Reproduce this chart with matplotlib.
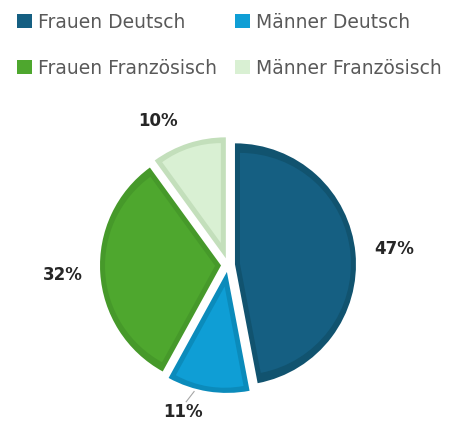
import numpy as np
import matplotlib.pyplot as plt
from matplotlib.patches import Patch, Wedge

labels = ['Frauen Deutsch', 'Männer Deutsch', 'Frauen Französisch', 'Männer Französisch']
values = [47, 11, 32, 10]
faces = ['#155f82', '#0f9ed5', '#4ea72e', '#d9f0d3']
edges = ['#11536f', '#0b8bbb', '#46992a', '#c3dfbb']

fig = plt.figure(figsize=(4.58, 4.26), dpi=100)
ax = fig.add_axes([0, 0, 1, 1])

# outer pie in the darker border colour (explode is in data units = pixels)
wedges, _ = ax.pie(values, center=(228, 161), radius=121, startangle=90,
                   counterclock=False, explode=[7] * 4, colors=edges,
                   wedgeprops=dict(linewidth=0))
ax.set_xlim(0, 458)
ax.set_ylim(0, 426)
ax.axis('off')

# lighter inner wedge, inset by a few pixels, gives the border band
inset = 5
for w, fc in zip(wedges, faces):
    half = np.deg2rad(w.theta2 - w.theta1) / 2
    mid = np.deg2rad(w.theta1) + half
    s = inset / np.sin(half)
    cx = w.center[0] + s * np.cos(mid)
    cy = w.center[1] + s * np.sin(mid)
    ax.add_patch(Wedge((cx, cy), w.r - inset - s, w.theta1, w.theta2,
                       facecolor=fc, linewidth=0))

# percentage labels, outside the slices
dist = [167, 154, 166, 160]
shift = [0, -8, 0, 8]   # degrees, nudge along the circle
for w, v, d, a in zip(wedges, values, dist, shift):
    t = np.deg2rad((w.theta1 + w.theta2) / 2 + a)
    x = 228 + d * np.cos(t)
    y = 161 + d * np.sin(t)
    ax.text(x, y, f'{v}%', ha='center', va='center', fontsize=12,
            fontweight='bold', color='#262626')

# leader line for the small slice
t = np.deg2rad((wedges[1].theta1 + wedges[1].theta2) / 2 - 8)
ax.plot([228 + 131 * np.cos(np.deg2rad(-105)), 228 + 143 * np.cos(t)],
        [161 + 131 * np.sin(np.deg2rad(-105)), 161 + 143 * np.sin(t)],
        color='#a6a6a6', lw=0.8)

order = [0, 2, 1, 3]
handles = [Patch(facecolor=faces[i], edgecolor='none') for i in order]
fig.legend(handles, [labels[i] for i in order], ncol=2, loc='upper left',
           bbox_to_anchor=(0.0, 1.01), frameon=False, fontsize=13.5,
           labelcolor='#595959', handlelength=0.8, handleheight=0.8,
           handletextpad=0.3, columnspacing=1.0, labelspacing=1.45)

fig.savefig('out.png', dpi=100)
